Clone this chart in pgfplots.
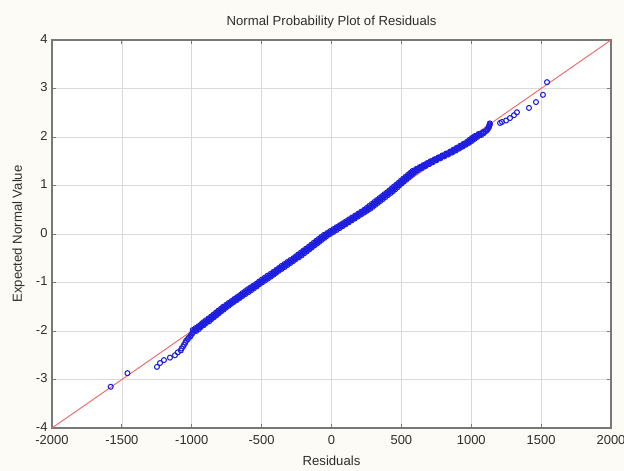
\documentclass[border=0pt]{standalone}
\usepackage{fontspec}
\setmainfont{Liberation Sans}
\usepackage{pgfplots}
\pgfplotsset{compat=1.18}

\definecolor{bgcream}{RGB}{253,251,245}
\definecolor{framegray}{RGB}{120,120,120}
\definecolor{gridgray}{RGB}{218,218,218}
\definecolor{fitred}{RGB}{240,100,100}
\definecolor{ptblue}{RGB}{30,30,225}
\definecolor{labelgray}{RGB}{45,45,45}

\begin{document}
\begin{tikzpicture}
\fill[bgcream] (-52bp,-43bp) rectangle (572bp,428bp);
\path[use as bounding box] (-52bp,-43bp) rectangle (572bp,428bp);
\begin{axis}[
  at={(0,0)}, anchor=south west,
  scale only axis, width=559bp, height=388bp,
  xmin=-2000, xmax=2000, ymin=-4, ymax=4,
  xtick={-2000,-1500,...,2000}, ytick={-4,-3,...,4},
  grid=major,
  major grid style={gridgray, line width=0.6bp},
  axis line style={framegray, line width=1.4bp},
  tick style={framegray, line width=0.8bp},
  tick align=inside, major tick length=4bp,
  axis background/.style={fill=white},
  /pgf/number format/assume math mode=true,
  /pgf/number format/1000 sep={},
  ticklabel style={font=\fontsize{13}{15}\selectfont, text=labelgray},
  x tick label style={yshift=-4bp},
  y tick label style={xshift=-1bp, yshift=1bp},
  title={Normal Probability Plot of Residuals},
  title style={font=\fontsize{13.2}{15}\selectfont, text=labelgray,
    at={(axis description cs:0.5,1)}, anchor=base, yshift=9bp},
  xlabel={Residuals},
  xlabel style={font=\fontsize{13.2}{15}\selectfont, text=labelgray,
    at={(axis description cs:0.5,0)}, anchor=base, yshift=-37bp},
  ylabel={Expected Normal Value},
  ylabel style={font=\fontsize{13.2}{15}\selectfont, text=labelgray,
    at={(axis description cs:0,0.5)}, anchor=base, rotate=0, yshift=30bp},
]
% reference line of a perfect normal fit
\addplot[fitred, line width=0.9bp] coordinates {(-2000,-4) (2000,4)};

% residuals against their expected normal values
\addplot[only marks, mark=o, mark size=2.5bp, ptblue, mark options={line width=1.05bp}]
coordinates {
(-1580,-3.15) (-1460,-2.87) (-1249,-2.74) (-1227,-2.66) (-1199,-2.60)
(-1156,-2.55) (-1120,-2.50)
(-1100,-2.44) (-1078,-2.40) (-1072,-2.36) (-1062,-2.32) (-1055,-2.28)
(-1046,-2.24) (-1040,-2.20) (-1028,-2.17) (-1022,-2.14) (-1010,-2.11)
(-1005,-2.08) (-996,-2.05) (-992,-2.02)
(-968,-2.00) (-993,-1.98) (-949,-1.96) (-973,-1.94) (-936,-1.92)
(-951,-1.90) (-915,-1.88) (-933,-1.86) (-899,-1.84) (-918,-1.82)
(-875,-1.80) (-899,-1.78) (-861,-1.76) (-879,-1.74) (-843,-1.72)
(-861,-1.70) (-825,-1.68) (-843,-1.66) (-809,-1.64) (-827,-1.62)
(-791,-1.60) (-810,-1.58) (-773,-1.56) (-791,-1.54) (-756,-1.52)
(-775,-1.50) (-737,-1.48) (-753,-1.46) (-718,-1.44) (-735,-1.42)
(-698,-1.40) (-714,-1.38) (-677,-1.36) (-695,-1.34) (-657,-1.32)
(-675,-1.30) (-638,-1.28) (-655,-1.26) (-617,-1.24) (-637,-1.22)
(-595,-1.20) (-618,-1.18) (-575,-1.16) (-599,-1.14) (-555,-1.12)
(-578,-1.10) (-536,-1.08) (-557,-1.06) (-518,-1.04) (-535,-1.02)
(-497,-1.00) (-518,-0.98) (-475,-0.96) (-499,-0.94) (-455,-0.92)
(-477,-0.90) (-435,-0.88) (-458,-0.86) (-415,-0.84) (-435,-0.82)
(-397,-0.80) (-415,-0.78) (-378,-0.76) (-395,-0.74) (-356,-0.72)
(-376,-0.70) (-335,-0.68) (-358,-0.66) (-315,-0.64) (-337,-0.62)
(-295,-0.60) (-317,-0.58) (-275,-0.56) (-296,-0.54) (-257,-0.52)
(-273,-0.50) (-233,-0.48) (-255,-0.46) (-214,-0.44) (-237,-0.42)
(-196,-0.40) (-218,-0.38) (-178,-0.36) (-200,-0.34) (-159,-0.32)
(-181,-0.30) (-142,-0.28) (-162,-0.26) (-124,-0.24) (-144,-0.22)
(-105,-0.20) (-127,-0.18) (-87,-0.16) (-109,-0.14) (-69,-0.12)
(-91,-0.10) (-51,-0.08) (-73,-0.06) (-33,-0.04) (-55,-0.02)
(-10,0.00) (-31,0.02) (13,0.04) (-9,0.06) (35,0.08)
(13,0.10) (57,0.12) (35,0.14) (79,0.16) (59,0.18)
(101,0.20) (81,0.22) (123,0.24) (103,0.26) (145,0.28)
(125,0.30) (167,0.32) (147,0.34) (189,0.36) (169,0.38)
(211,0.40) (191,0.42) (233,0.44) (213,0.46) (255,0.48)
(235,0.50) (277,0.52) (253,0.54) (295,0.56) (271,0.58)
(313,0.60) (289,0.62) (331,0.64) (307,0.66) (349,0.68)
(325,0.70) (367,0.72) (343,0.74) (385,0.76) (361,0.78)
(403,0.80) (379,0.82) (421,0.84) (397,0.86) (439,0.88)
(415,0.90) (455,0.92) (431,0.94) (471,0.96) (447,0.98)
(485,1.00) (465,1.02) (501,1.04) (482,1.06) (518,1.08)
(497,1.10) (535,1.12) (513,1.14) (551,1.16) (530,1.18)
(567,1.20) (547,1.22) (583,1.24) (563,1.26) (600,1.28)
(580,1.30) (621,1.32) (605,1.34) (647,1.36) (631,1.38)
(673,1.40) (657,1.42) (699,1.44) (683,1.46) (725,1.48)
(709,1.50) (751,1.52) (737,1.54) (779,1.56) (765,1.58)
(807,1.60) (793,1.62) (835,1.64) (821,1.66) (863,1.68)
(849,1.70) (889,1.72) (873,1.74) (913,1.76) (897,1.78)
(937,1.80) (921,1.82) (961,1.84) (945,1.86) (985,1.88)
(969,1.90) (1005,1.92) (987,1.94) (1023,1.96) (1005,1.98)
(1043,2.00) (1025,2.02) (1071,2.04) (1051,2.06) (1090,2.08)
(1085,2.10) (1104,2.12) (1112,2.14) (1116,2.16) (1122,2.18)
(1124,2.20) (1128,2.22) (1130,2.24) (1132,2.26) (1133,2.28)
(1206,2.29) (1220,2.31) (1249,2.34) (1277,2.39) (1306,2.45)
(1327,2.51) (1413,2.60) (1463,2.72) (1513,2.87) (1542,3.13)
};

% the denser middle of the sample
\addplot[only marks, mark=o, mark size=2.5bp, ptblue, mark options={line width=1.05bp}]
coordinates {
(-981,-1.99) (-970,-1.97) (-962,-1.95) (-954,-1.93) (-944,-1.91)
(-933,-1.89) (-924,-1.87) (-916,-1.85) (-908,-1.83) (-896,-1.81)
(-887,-1.79) (-880,-1.77) (-870,-1.75) (-861,-1.73) (-852,-1.71)
(-843,-1.69) (-834,-1.67) (-826,-1.65) (-818,-1.63) (-809,-1.61)
(-800,-1.59) (-791,-1.57) (-782,-1.55) (-773,-1.53) (-765,-1.51)
(-756,-1.49) (-745,-1.47) (-736,-1.45) (-727,-1.43) (-716,-1.41)
(-706,-1.39) (-696,-1.37) (-686,-1.35) (-676,-1.33) (-666,-1.31)
(-656,-1.29) (-646,-1.27) (-636,-1.25) (-627,-1.23) (-616,-1.21)
(-606,-1.19) (-596,-1.17) (-587,-1.15) (-577,-1.13) (-566,-1.11)
(-557,-1.09) (-546,-1.07) (-537,-1.05) (-526,-1.03) (-516,-1.01)
(-507,-0.99) (-496,-0.97) (-487,-0.95) (-477,-0.93) (-466,-0.91)
(-456,-0.89) (-446,-0.87) (-436,-0.85) (-425,-0.83) (-416,-0.81)
(-406,-0.79) (-396,-0.77) (-386,-0.75) (-375,-0.73) (-366,-0.71)
(-355,-0.69) (-346,-0.67) (-336,-0.65) (-326,-0.63) (-316,-0.61)
(-306,-0.59) (-296,-0.57) (-285,-0.55) (-276,-0.53) (-265,-0.51)
(-253,-0.49) (-244,-0.47) (-234,-0.45) (-225,-0.43) (-216,-0.41)
(-207,-0.39) (-198,-0.37) (-189,-0.35) (-180,-0.33) (-170,-0.31)
(-161,-0.29) (-152,-0.27) (-143,-0.25) (-134,-0.23) (-124,-0.21)
(-116,-0.19) (-107,-0.17) (-98,-0.15) (-89,-0.13) (-80,-0.11)
(-71,-0.09) (-62,-0.07) (-53,-0.05) (-44,-0.03) (-32,-0.01)
(-20,0.01) (-9,0.03) (2,0.05) (13,0.07) (24,0.09)
(35,0.11) (46,0.13) (57,0.15) (69,0.17) (80,0.19)
(91,0.21) (102,0.23) (113,0.25) (124,0.27) (135,0.29)
(146,0.31) (157,0.33) (168,0.35) (179,0.37) (190,0.39)
(201,0.41) (212,0.43) (223,0.45) (234,0.47) (245,0.49)
(256,0.51) (265,0.53) (274,0.55) (283,0.57) (292,0.59)
(301,0.61) (310,0.63) (319,0.65) (328,0.67) (337,0.69)
(346,0.71) (355,0.73) (364,0.75) (373,0.77) (382,0.79)
(391,0.81) (400,0.83) (409,0.85) (418,0.87) (427,0.89)
(435,0.91) (443,0.93) (451,0.95) (459,0.97) (466,0.99)
(475,1.01) (483,1.03) (491,1.05) (500,1.07) (508,1.09)
(516,1.11) (524,1.13) (532,1.15) (540,1.17) (548,1.19)
(557,1.21) (565,1.23) (573,1.25) (581,1.27) (590,1.29)
(600,1.31) (613,1.33) (626,1.35) (639,1.37) (652,1.39)
(665,1.41) (678,1.43) (691,1.45) (704,1.47) (717,1.49)
(730,1.51) (744,1.53) (758,1.55) (772,1.57) (786,1.59)
(800,1.61) (814,1.63) (828,1.65) (842,1.67) (856,1.69)
(869,1.71) (881,1.73) (893,1.75) (905,1.77) (917,1.79)
(929,1.81) (941,1.83) (953,1.85) (965,1.87) (977,1.89)
(987,1.91) (996,1.93) (1005,1.95) (1014,1.97) (1024,1.99)
(1034,2.01) (1048,2.03) (1061,2.05) (1074,2.07) (1088,2.09)
};
\end{axis}
\end{tikzpicture}
\end{document}
